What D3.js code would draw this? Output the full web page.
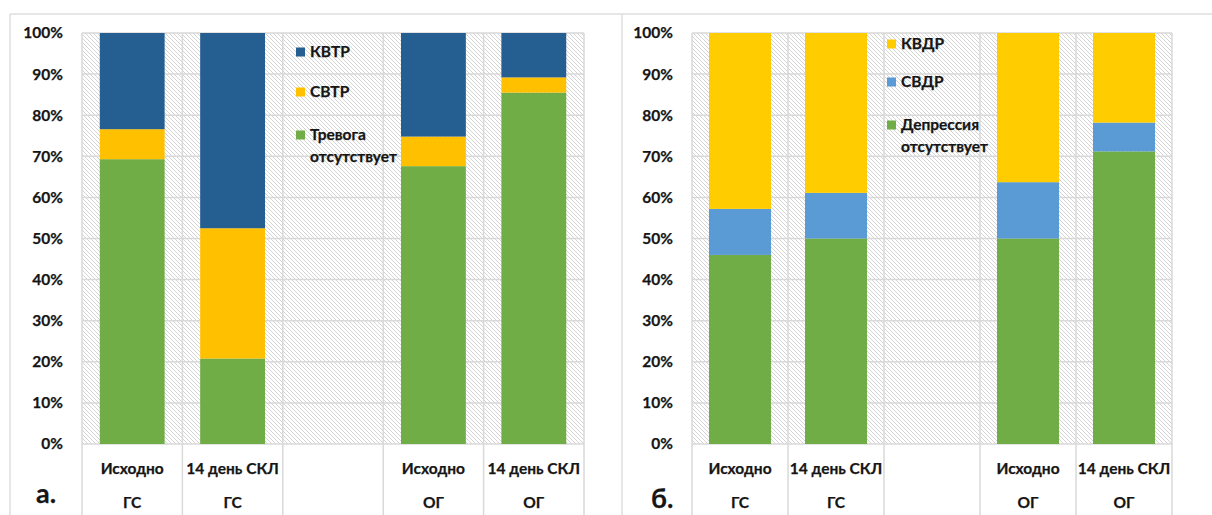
<!DOCTYPE html>
<html>
<head>
<meta charset="utf-8">
<script src="https://cdn.jsdelivr.net/npm/d3@7/dist/d3.min.js"></script>
<style>
  html, body { margin: 0; padding: 0; background: #fff; }
  svg { display: block; }
  text { font-family: Lato, "Open Sans", "Liberation Sans", sans-serif; font-weight: 700; fill: #151515; }
</style>
</head>
<body>
<svg id="chart" width="1212" height="515"></svg>
<script>
// Category axis: first level (time point) and second level (group)
const timePoints = ["Исходно", "14 день СКЛ", "", "Исходно", "14 день СКЛ"];
const groups = ["ГС", "ГС", "", "ОГ", "ОГ"];

// Panel а: anxiety levels, % of patients
const anxietyNone = [69.3, 20.8, 0, 67.6, 85.5];      // Тревога отсутствует
const anxietySubclinical = [7.3, 31.7, 0, 7.2, 3.7];  // СВТР
const anxietyClinical = [23.4, 47.5, 0, 25.2, 10.8];  // КВТР

// Panel б: depression levels, % of patients
const depressionNone = [46.0, 50.0, 0, 50.0, 71.2];      // Депрессия отсутствует
const depressionSubclinical = [11.2, 11.1, 0, 13.7, 7.0]; // СВДР
const depressionClinical = [42.8, 38.9, 0, 36.3, 21.8];   // КВДР

const yTicks = [0, 10, 20, 30, 40, 50, 60, 70, 80, 90, 100];

const svg = d3.select("#chart");
const gridColor = "#d9d9d9";
const textColor = "#151515";

// diagonal hatch used as the plot-area fill
const defs = svg.append("defs");
const pat = defs.append("pattern")
  .attr("id", "hatch")
  .attr("patternUnits", "userSpaceOnUse")
  .attr("width", 4).attr("height", 4);
pat.append("rect").attr("width", 4).attr("height", 4).attr("fill", "#fff");
pat.append("path")
  .attr("d", "M0,0L4,4M-1,3L1,5M3,-1L5,1")
  .attr("stroke", "#d4d4d4").attr("stroke-width", 1);

// chart-area frame
svg.append("line").attr("x1", 10).attr("x2", 1212).attr("y1", 14).attr("y2", 14)
  .attr("stroke", "#dedede").attr("stroke-width", 1.5);
[10, 622].forEach(x => svg.append("line").attr("x1", x).attr("x2", x).attr("y1", 14).attr("y2", 515)
  .attr("stroke", "#dedede").attr("stroke-width", 1.5));

function styleText(sel, size) {
  sel.attr("font-size", size).attr("fill", textColor)
    .attr("stroke", textColor).attr("stroke-width", 0.25)
    .style("font-family", "Lato, sans-serif").style("font-weight", 700);
}

function drawPanel(cfg) {
  const g = svg.append("g");
  const x = d3.scaleBand().domain(d3.range(timePoints.length)).range([cfg.x0, cfg.x1]).padding(0);
  const y = d3.scaleLinear().domain([0, 100]).range([cfg.yBottom, cfg.yTop]);

  g.append("rect")
    .attr("x", cfg.x0).attr("y", cfg.yTop)
    .attr("width", cfg.x1 - cfg.x0).attr("height", cfg.yBottom - cfg.yTop)
    .attr("fill", "url(#hatch)");

  // horizontal gridlines
  g.selectAll(".hgrid").data(yTicks).join("line")
    .attr("x1", cfg.x0).attr("x2", cfg.x1)
    .attr("y1", d => y(d)).attr("y2", d => y(d))
    .attr("stroke", gridColor).attr("stroke-width", 1.5);

  // category separators, running down through the label area
  const bounds = d3.range(timePoints.length + 1).map(i => i < timePoints.length ? x(i) : cfg.x1);
  g.selectAll(".vgrid").data(bounds).join("line")
    .attr("x1", d => d).attr("x2", d => d)
    .attr("y1", cfg.yTop).attr("y2", 515)
    .attr("stroke", gridColor).attr("stroke-width", 1.5);

  // stacked bars
  const rows = timePoints.map((t, i) => {
    const r = { i };
    cfg.series.forEach(s => { r[s.key] = s.values[i]; });
    return r;
  });
  const stack = d3.stack().keys(cfg.series.map(s => s.key));
  const layers = stack(rows);
  const bw = x.bandwidth() * 0.646;
  layers.forEach((layer, li) => {
    g.selectAll(".bar" + li).data(layer.filter(d => d[1] > d[0])).join("rect")
      .attr("x", d => x(d.data.i) + (x.bandwidth() - bw) / 2)
      .attr("y", d => y(d[1]))
      .attr("width", bw)
      .attr("height", d => y(d[0]) - y(d[1]))
      .attr("fill", cfg.series[li].color);
  });

  // y axis labels
  const yAxis = d3.axisLeft(y).tickValues(yTicks).tickFormat(d => d + "%").tickSize(0).tickPadding(0);
  const ax = g.append("g").attr("transform", `translate(${cfg.labelRight},0)`).call(yAxis);
  ax.select(".domain").remove();
  styleText(ax.selectAll("text"), 15.5);

  // two-level category labels
  const xAxisTop = d3.axisBottom(x).tickFormat(i => timePoints[i]).tickSize(0).tickPadding(0);
  const axTop = g.append("g").attr("transform", `translate(0,${cfg.row1})`).call(xAxisTop);
  axTop.select(".domain").remove();
  styleText(axTop.selectAll("text").attr("dy", "0.35em"), 15.5);
  const xAxisGroup = d3.axisBottom(x).tickFormat(i => groups[i]).tickSize(0).tickPadding(0);
  const axGroup = g.append("g").attr("transform", `translate(0,${cfg.row2})`).call(xAxisGroup);
  axGroup.select(".domain").remove();
  styleText(axGroup.selectAll("text").attr("dy", "0.35em"), 15.5);

  // panel letter
  styleText(g.append("text").attr("x", cfg.letterX).attr("y", cfg.letterY).text(cfg.letter), 27);

  // legend (top series first)
  const legendItems = cfg.series.slice().reverse();
  legendItems.forEach((s, k) => {
    const cy = cfg.legendY[k];
    g.append("rect").attr("x", cfg.legendX).attr("y", cy - 4.5)
      .attr("width", 9).attr("height", 9).attr("fill", s.color);
    s.label.forEach((line, j) => {
      styleText(g.append("text").attr("x", cfg.legendX + 14).attr("y", cy + j * 21.5)
        .attr("dy", "0.35em").text(line), 15.5);
    });
  });
}

drawPanel({
  x0: 82, x1: 584, yTop: 33, yBottom: 444, labelRight: 63,
  row1: 469, row2: 503, letter: "а.", letterX: 36, letterY: 503,
  legendX: 296, legendY: [52, 92, 135],
  series: [
    { key: "none", values: anxietyNone, color: "#70ad47", label: ["Тревога", "отсутствует"] },
    { key: "sub", values: anxietySubclinical, color: "#ffc000", label: ["СВТР"] },
    { key: "clin", values: anxietyClinical, color: "#255e91", label: ["КВТР"] }
  ]
});

drawPanel({
  x0: 692, x1: 1172, yTop: 33, yBottom: 444, labelRight: 673,
  row1: 469, row2: 503, letter: "б.", letterX: 651, letterY: 508,
  legendX: 887, legendY: [44, 82, 125],
  series: [
    { key: "none", values: depressionNone, color: "#70ad47", label: ["Депрессия", "отсутствует"] },
    { key: "sub", values: depressionSubclinical, color: "#5b9bd5", label: ["СВДР"] },
    { key: "clin", values: depressionClinical, color: "#ffcc00", label: ["КВДР"] }
  ]
});
</script>
</body>
</html>
